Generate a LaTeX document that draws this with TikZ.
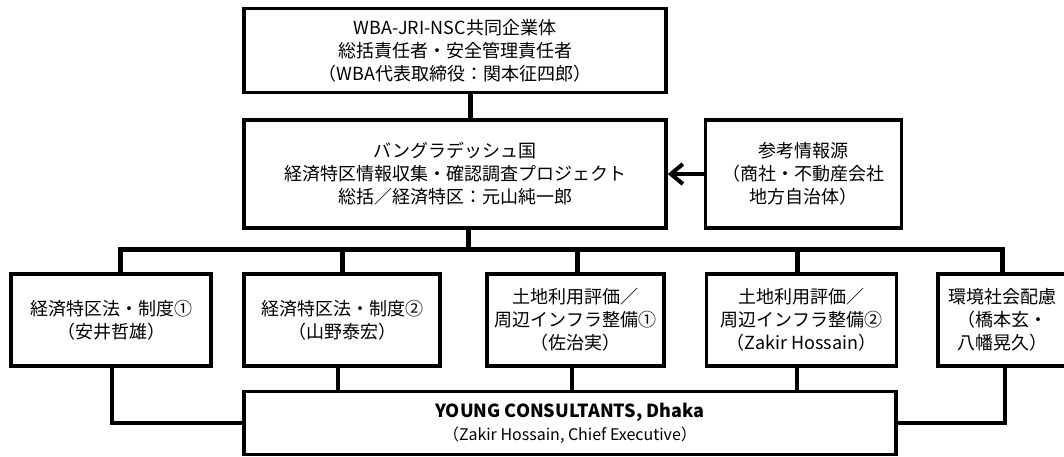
\documentclass[tikz,border=0pt]{standalone}
\usepackage{fontspec}
\setmainfont{Noto Sans CJK JP}
\usetikzlibrary{positioning, arrows.meta}

\begin{document}
\begin{tikzpicture}[x = 1pt, y = -1pt, thick,
  unit/.style = {rectangle, draw, line width = 3.5pt, inner sep = 0pt, align = center, font = \fontsize{18}{23}\selectfont},
  link/.style = {line width = 5pt},
  sublink/.style = {line width = 3.5pt}]
  \useasboundingbox (0, 0) rectangle (1064, 457);
  % nodes
  \node [unit, minimum width = 422pt, minimum height = 84pt] (jv) at (455, 50.5) {WBA-JRI-NSC共同企業体\\総括責任者・安全管理責任者\\（WBA代表取締役：関本征四郎）};
  \node [unit, minimum width = 422pt, minimum height = 108pt][below = 24pt of jv] (project) {バングラデッシュ国\\経済特区情報収集・確認調査プロジェクト\\総括／経済特区：元山純一郎};
  \node [unit, minimum width = 196pt, minimum height = 108pt][right = 36pt of project] (source) {参考情報源\\（商社・不動産会社\\地方自治体）};

  \node [unit, minimum width = 200pt, minimum height = 92pt] (law1) at (111, 320) {経済特区法・制度①\\（安井哲雄）};
  \node [unit, minimum width = 196pt, minimum height = 92pt][right = 29.5pt of law1] (law2) {経済特区法・制度②\\（山野泰宏）};
  \node [unit, minimum width = 177pt, minimum height = 92pt][right = 43.5pt of law2] (land1) {土地利用評価／\\周辺インフラ整備①\\（佐治実）};
  \node [unit, minimum width = 190pt, minimum height = 92pt][right = 39pt of land1] (land2) {土地利用評価／\\周辺インフラ整備②\\（Zakir Hossain）};
  \node [unit, minimum width = 128pt, minimum height = 92pt][right = 38pt of land2] (env) {環境社会配慮\\（橋本玄・\\八幡晃久）};

  \node [unit, minimum width = 652pt, minimum height = 63pt] (young) at (570, 423) {\textbf{YOUNG CONSULTANTS, Dhaka}\\{\fontsize{16}{23}\selectfont（Zakir Hossain, Chief Executive）}};

  % edges
  \coordinate (bus) at ([xshift = 13pt, yshift = -20pt]project.south);
  \draw [link] ([xshift = 15pt]jv.south) -- ([xshift = 15pt]project.north);
  \draw [link] ([xshift = 13pt]project.south) -- (bus);
  \draw [link] ([xshift = 9pt]law1.north) |- (bus) -| (env.north);
  \draw [link] (law2.north) -- (law2.north |- bus);
  \draw [link] ([xshift = 1.5pt]land1.north) -- ([xshift = 1.5pt]land1.north |- bus);
  \draw [link] ([xshift = -4pt]land2.north) -- ([xshift = -4pt]land2.north |- bus);

  \draw [line width = 4pt] [-{Straight Barb[length = 12pt, width = 20pt]}] (source) -- (project);

  \draw [sublink] ([xshift = 1pt]law1.south) |- (young.west);
  \draw [sublink] ([xshift = -4pt]law2.south) -- ([xshift = -4pt]law2.south |- young.north);
  \draw [sublink] ([xshift = -3.5pt]land1.south) -- ([xshift = -3.5pt]land1.south |- young.north);
  \draw [sublink] ([xshift = -4.5pt]land2.south) -- ([xshift = -4.5pt]land2.south |- young.north);
  \draw [sublink] ([xshift = 3pt]env.south) |- (young.east);
\end{tikzpicture}
\end{document}
